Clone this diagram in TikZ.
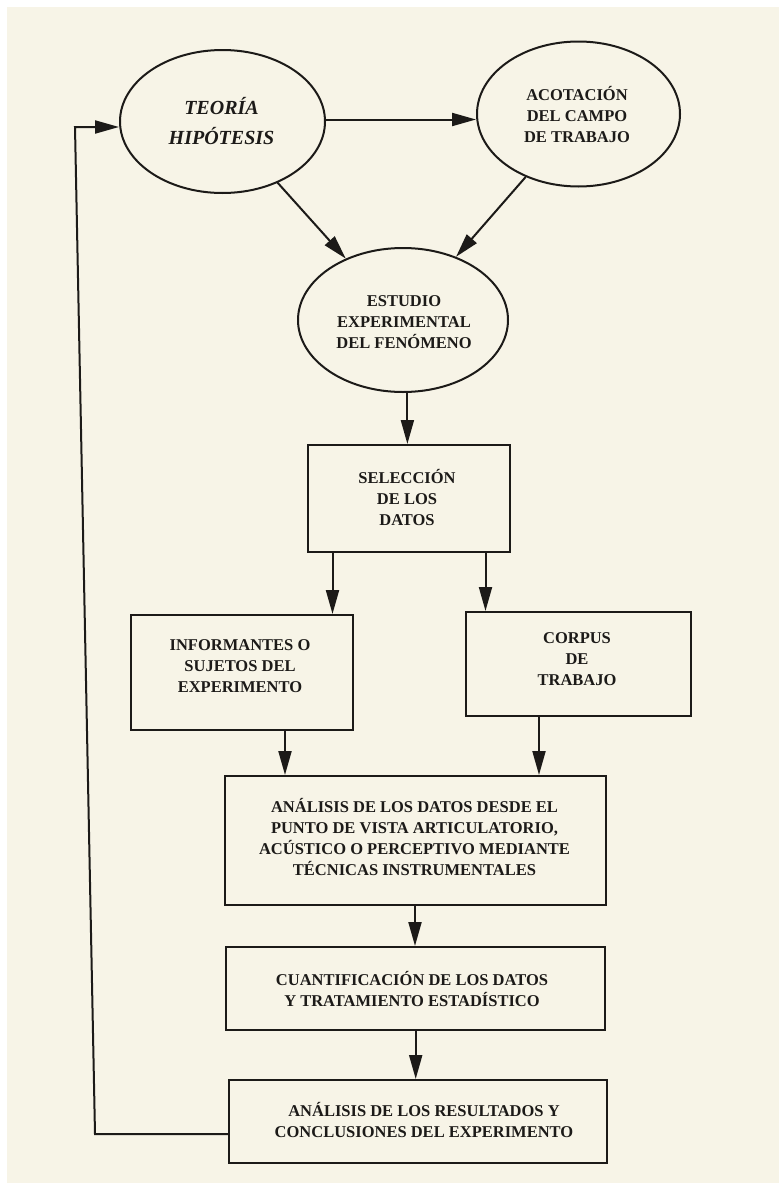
\documentclass[tikz,border=0pt]{standalone}
\usepackage{fontspec}
\setmainfont{Liberation Serif}
\usetikzlibrary{arrows.meta,shapes.geometric,calc}
\definecolor{paper}{RGB}{247,244,231}
\definecolor{ink}{RGB}{28,26,24}
\begin{document}
\begin{tikzpicture}[x=1pt,y=-1pt,
  txt/.style={font=\fontsize{16.5}{21}\selectfont\bfseries, text=ink, align=center, inner sep=0pt},
  ittxt/.style={font=\fontsize{20}{30}\selectfont\bfseries\itshape, text=ink, align=center, inner sep=0pt},
  ell/.style={ellipse, draw=ink, line width=2pt, inner sep=0pt},
  boxn/.style={rectangle, draw=ink, line width=2pt, inner sep=0pt},
  arr/.style={-{Triangle[length=24pt,width=13pt]}, draw=ink, line width=2pt}]
\useasboundingbox (0,0) rectangle (779,1183);
\fill[white] (0,0) rectangle (779,1183);
\fill[paper] (7,7) rectangle (779,1183);

% shapes
\node[ell, minimum width=205pt, minimum height=143pt] (teoria) at (222.5,121.5) {};
\node[ell, minimum width=203pt, minimum height=145pt] (acot) at (578.5,114) {};
\node[ell, minimum width=210pt, minimum height=144pt] (estudio) at (403,320) {};
\node[boxn, minimum width=202pt, minimum height=107pt] (sel) at (408.5,498.5) {};
\node[boxn, minimum width=222pt, minimum height=115pt] (inf) at (242,672.5) {};
\node[boxn, minimum width=225pt, minimum height=104pt] (corpus) at (578,664) {};
\node[boxn, minimum width=381pt, minimum height=129pt] (anal) at (415,840.5) {};
\node[boxn, minimum width=379pt, minimum height=83pt] (cuant) at (415.7,988.5) {};
\node[boxn, minimum width=378pt, minimum height=83pt] (final) at (418,1121.5) {};

% texts
\node[ittxt] (teoriaT) at (221.5,121) {TEORÍA\\HIPÓTESIS};
\node[txt] (acotT) at (577,115) {ACOTACIÓN\\DEL CAMPO\\DE TRABAJO};
\node[txt] (estudioT) at (404,322) {ESTUDIO\\EXPERIMENTAL\\DEL FENÓMENO};
\node[txt] (selT) at (407,497) {SELECCIÓN\\DE LOS\\DATOS};
\node[txt] (infT) at (240,666) {INFORMANTES O\\SUJETOS DEL\\EXPERIMENTO};
\node[txt] (corpusT) at (577,659) {CORPUS\\DE\\TRABAJO};
\node[txt] (analT) at (414.5,837) {ANÁLISIS DE LOS DATOS DESDE EL\\PUNTO DE VISTA ARTICULATORIO,\\ACÚSTICO O PERCEPTIVO MEDIANTE\\TÉCNICAS INSTRUMENTALES};
\node[txt] (cuantT) at (412,989) {CUANTIFICACIÓN DE LOS DATOS\\Y TRATAMIENTO ESTADÍSTICO};
\node[txt] (finalT) at (424,1120) {ANÁLISIS DE LOS RESULTADOS Y\\CONCLUSIONES DEL EXPERIMENTO};

% connectors
\draw[arr] ([yshift=2pt]teoria.east) -- ([yshift=2pt]acot.west |- teoria.east);
\draw[arr] (teoria.-48.5) -- (estudio.133);
\draw[arr] (acot.-130) -- (estudio.50);
\draw[arr] ([xshift=4.4pt]estudio.south) -- ([xshift=4.4pt]estudio.south |- sel.north);
\draw[arr] ([xshift=-76pt]sel.south) -- ([xshift=-76pt]sel.south |- inf.north);
\draw[arr] ([xshift=77pt]sel.south) -- ([xshift=77pt]sel.south |- corpus.north);
\draw[arr] ([xshift=43pt]inf.south) -- ([xshift=43pt]inf.south |- anal.north);
\draw[arr] ([xshift=-39pt]corpus.south) -- ([xshift=-39pt]corpus.south |- anal.north);
\draw[arr] (anal.south) -- (anal.south |- cuant.north);
\draw[arr] (cuant.south) -- (cuant.south |- final.north);
\coordinate (fbB) at (95,1134);
\coordinate (fbT) at (75,127);
\draw[arr, line join=miter] (final.west |- fbB) -- (fbB) -- (fbT) -- (teoria.west |- fbT);
\end{tikzpicture}
\end{document}
